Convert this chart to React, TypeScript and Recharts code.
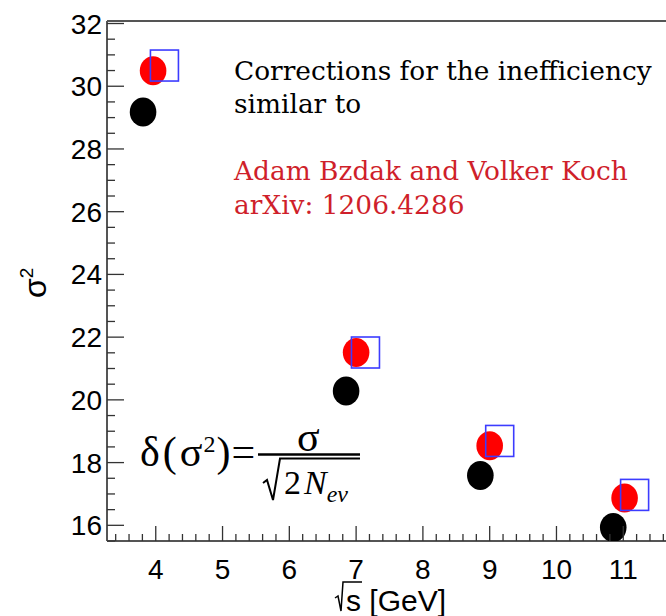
import React from "react";
import { ScatterChart, Scatter, XAxis, YAxis, ReferenceLine } from "recharts";

// sqrt(s) [GeV] and sigma^2 values
const rawX = [3.81, 6.85, 8.86, 10.85];
const rawY = [29.18, 20.28, 17.59, 15.93];
const corrX = [3.96, 7.0, 9.0, 11.02];
const corrY = [30.49, 21.51, 18.54, 16.87];
const refX = [4.13, 7.14, 9.15, 11.17];
const refY = [30.66, 21.51, 18.69, 16.97];

const xLabels = [4, 5, 6, 7, 8, 9, 10, 11];
const yLabels = [16, 18, 20, 22, 24, 26, 28, 30, 32];
const xDomain: [number, number] = [3.27, 11.64];
const yDomain: [number, number] = [15.5, 32.08];

const xTicks: number[] = [];
for (let i = 17; i <= 58; i++) xTicks.push(Math.round(i * 2) / 10);
const yTicks: number[] = [];
for (let i = 31; i <= 64; i++) yTicks.push(i / 2);

const toPoints = (xs: number[], ys: number[]) => xs.map((x, i) => ({ x, y: ys[i] }));

const sans = "'Liberation Sans', Arial, sans-serif";
const serif = "'Liberation Serif', 'Times New Roman', serif";
const dejavu = "'DejaVu Serif', serif";
const axisColor = "#555";

const isMajor = (v: number, list: number[]) => list.some((m) => Math.abs(m - v) < 1e-6);

function XTick(props: any) {
  const { x, y, payload } = props;
  const major = isMajor(payload.value, xLabels);
  return (
    <g>
      <line x1={x} y1={y} x2={x} y2={y - (major ? 15 : 7)} stroke="#333" strokeWidth={1.3} />
      {major && (
        <text x={x} y={y + 38} textAnchor="middle" fontSize={28} fontFamily={sans} fill="#000">
          {payload.value}
        </text>
      )}
    </g>
  );
}

function YTick(props: any) {
  const { x, y, payload } = props;
  const major = isMajor(payload.value, yLabels);
  return (
    <g>
      <line x1={x} y1={y} x2={x + (major ? 17 : 8)} y2={y} stroke="#333" strokeWidth={1.3} />
      {major && (
        <text x={x - 5} y={y + 10} textAnchor="end" fontSize={28} fontFamily={sans} fill="#000">
          {payload.value}
        </text>
      )}
    </g>
  );
}

const Dot = (color: string) => (props: any) =>
  <ellipse cx={props.cx} cy={props.cy} rx={13.3} ry={14.5} fill={color} />;

const Box = (props: any) => (
  <rect x={props.cx - 14} y={props.cy - 15.5} width={28} height={31} fill="none" stroke="#3c3cff" strokeWidth={1.6} />
);

export default function App() {
  return (
    <div style={{ position: "absolute", left: 0, top: 0, width: 666, height: 616, overflow: "hidden", background: "#fff" }}>
      <ScatterChart width={666} height={616} margin={{ top: 21, right: 0, bottom: 0, left: 0 }}>
        <XAxis
          type="number"
          dataKey="x"
          domain={xDomain}
          allowDataOverflow
          ticks={xTicks}
          interval={0}
          height={75}
          tickSize={0}
          tickMargin={0}
          tickLine={false}
          tick={<XTick />}
          axisLine={{ stroke: axisColor, strokeWidth: 2 }}
        />
        <YAxis
          type="number"
          dataKey="y"
          domain={yDomain}
          allowDataOverflow
          ticks={yTicks}
          interval={0}
          width={107}
          tickSize={0}
          tickMargin={0}
          tickLine={false}
          tick={<YTick />}
          axisLine={{ stroke: axisColor, strokeWidth: 2 }}
        />
        <ReferenceLine y={yDomain[1]} stroke={axisColor} strokeWidth={2} />
        <Scatter data={toPoints(rawX, rawY)} shape={Dot("#000")} isAnimationActive={false} />
        <Scatter data={toPoints(corrX, corrY)} shape={Dot("#ff0000")} isAnimationActive={false} />
        <Scatter data={toPoints(refX, refY)} shape={Box} isAnimationActive={false} />
      </ScatterChart>

      <svg width={666} height={616} style={{ position: "absolute", left: 0, top: 0, pointerEvents: "none" }}>
        <text fontFamily={dejavu} fontSize={26.4} fill="#000">
          <tspan x={234} y={80}>Corrections for the inefficiency</tspan>
          <tspan x={234} y={113}>similar to</tspan>
        </text>
        <text fontFamily={dejavu} fontSize={26.4} fill="#cf1f2b">
          <tspan x={234} y={180}>Adam Bzdak and Volker Koch</tspan>
          <tspan x={234} y={214}>arXiv: 1206.4286</tspan>
        </text>

        {/* formula */}
        <g fontFamily={serif} fill="#000">
          <text x={140} y={466} fontSize={42}>
            δ<tspan dx={3}>(</tspan>
            <tspan dx={3}>σ</tspan>
            <tspan dx={1} dy={-14} fontSize={24}>2</tspan>
            <tspan dx={1} dy={14}>)</tspan>
            <tspan dx={1}>=</tspan>
          </text>
          <text x={297} y={451} fontSize={42}>σ</text>
          <line x1={258} y1={454.5} x2={360} y2={454.5} stroke="#000" strokeWidth={2.5} />
          <polyline points="263,483 267,480 273,500 280,458.5 360,458.5" fill="none" stroke="#000" strokeWidth={2} />
          <text x={284} y={494} fontSize={34}>
            2<tspan dx={3} fontStyle="italic">N</tspan>
            <tspan dy={8} fontSize={24} fontStyle="italic">ev</tspan>
          </text>
        </g>

        {/* axis titles */}
        <text transform="translate(46,298) rotate(-90)" fontFamily={sans} fontSize={32} fill="#000">
          σ<tspan dy={-13} fontSize={19}>2</tspan>
        </text>
        <polyline points="335,598 338,596 341,611 343,582 362,582" fill="none" stroke="#000" strokeWidth={1.5} />
        <text x={346} y={611} fontFamily={sans} fontSize={30} fill="#000">s [GeV]</text>
      </svg>
    </div>
  );
}
